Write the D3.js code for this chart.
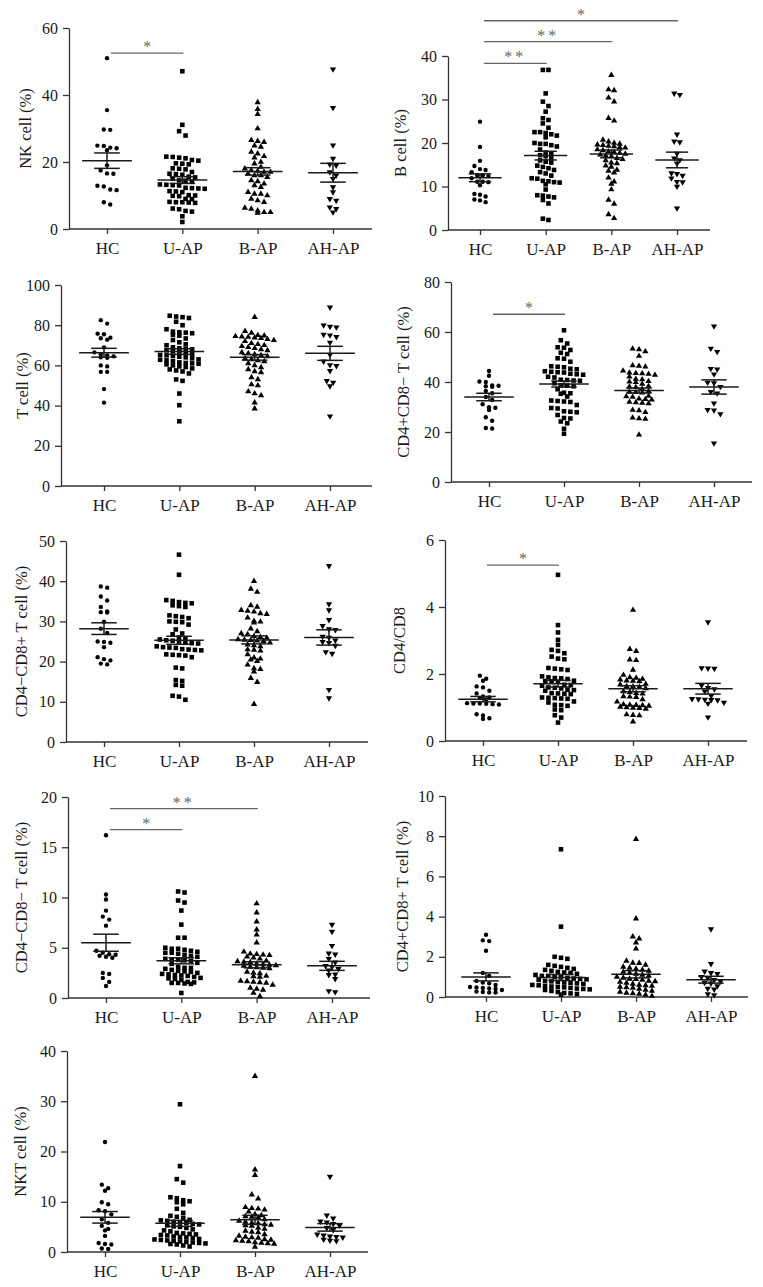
<!DOCTYPE html>
<html><head><meta charset="utf-8">
<script src="https://cdn.jsdelivr.net/npm/d3@7"></script>
<style>
body{margin:0;background:#fff}
svg{display:block}
text{font-family:"Liberation Serif","Times New Roman",serif;}
</style>
</head><body>
<svg id="c" width="763" height="1287"></svg>
<script>
// ---------------- DATA ----------------
const categories = ["HC", "U-AP", "B-AP", "AH-AP"];

// NK cell (%)
const nkHC = [51, 35.5, 29.7, 29.6, 24.9, 24.8, 24.3, 24.1, 23.5, 19.0, 17.5, 16.6, 16.5, 12.9, 12.7, 11.8, 11.6, 8.0, 7.3];
const nkUAP = [47.1, 31.1, 29.2, 27.9, 21.6, 21.5, 21.3, 21.1, 20.6, 20.4, 19.6, 19.5, 19.3, 18.1, 18.0, 17.8, 17.0, 16.5, 16.4, 16.2, 15.6, 15.4, 15.0, 14.5, 14.4, 14.2, 13.3, 13.2, 13.1, 13.0, 12.3, 12.2, 12.1, 12.0, 11.3, 11.2, 11.0, 10.1, 10.0, 9.9, 9.8, 9.0, 8.9, 8.1, 8.0, 8.0, 7.9, 7.8, 6.1, 5.9, 5.4, 5.2, 3.8, 2.1];
const nkBAP = [37.8, 35.8, 34.3, 30.0, 26.5, 26.2, 25.9, 24.9, 24.5, 23.0, 22.5, 21.7, 21.3, 20.0, 19.5, 18.5, 18.0, 17.5, 17.3, 17.0, 17.0, 16.5, 16.0, 16.0, 15.5, 14.5, 14.2, 13.5, 13.0, 12.5, 11.0, 10.5, 10.5, 10.0, 9.0, 8.5, 8.0, 6.3, 6.0, 5.5, 5.0, 5.0, 4.8];
const nkAHAP = [47.7, 36.2, 25.0, 21.0, 19.3, 19.0, 17.0, 16.0, 15.0, 12.5, 11.0, 9.0, 8.5, 6.5, 6.0, 5.0];
const nkMean = [20.4, 14.6, 17.2, 16.8];
const nkSem = [2.3, 1.0, 1.1, 2.8];
const nkSig = [[0, 1, 52.5, "*"]];

// B cell (%)
const bHC = [24.9, 19.1, 15.9, 14.7, 14.0, 13.8, 13.3, 12.6, 12.6, 12.4, 11.9, 11.1, 11.1, 11.0, 10.3, 8.3, 8.1, 7.7, 7.0, 6.8, 6.4];
const bUAP = [36.8, 36.8, 31.4, 29.5, 28.5, 27.2, 25.7, 25.3, 24.5, 23.5, 22.5, 22.5, 22.3, 22.0, 21.7, 21.3, 20.0, 19.8, 19.8, 19.5, 19.2, 18.5, 17.8, 17.5, 17.2, 17.0, 16.5, 16.0, 15.7, 15.5, 14.8, 14.5, 14.2, 13.8, 13.3, 13.0, 12.5, 11.9, 11.8, 11.3, 11.2, 11.0, 10.9, 10.5, 9.3, 8.0, 7.9, 7.7, 7.5, 6.9, 6.1, 2.6, 2.3];
const bBAP = [35.6, 32.3, 32.1, 30.4, 29.5, 25.7, 25.1, 20.7, 20.3, 20.0, 19.8, 19.6, 19.5, 19.3, 19.2, 19.0, 18.9, 18.5, 18.3, 18.0, 17.9, 17.7, 17.5, 17.3, 17.1, 16.9, 16.5, 16.3, 16.0, 15.5, 15.3, 14.8, 14.5, 13.8, 13.6, 13.2, 12.0, 11.1, 10.6, 9.3, 6.9, 6.0, 3.6, 2.7];
const bAHAP = [31.4, 31.1, 22.0, 20.4, 20.2, 17.6, 16.5, 16.1, 15.3, 13.1, 12.9, 12.5, 11.9, 11.1, 11.0, 10.0, 5.0];
const bMean = [12.0, 17.1, 17.5, 16.1];
const bSem = [0.9, 1.0, 0.9, 1.8];
const bSig = [[0, 1, 38.3, "**"], [0, 2, 43.3, "**"], [0, 3, 48.1, "*"]];

// T cell (%)
const tHC = [82.5, 80.8, 75.8, 75.5, 73.8, 73.5, 72.8, 69.0, 66.5, 65.5, 65.0, 64.5, 64.0, 63.8, 60.0, 59.5, 56.8, 56.8, 48.2, 41.5];
const tUAP = [84.7, 84.3, 84.0, 83.6, 81.7, 80.0, 78.0, 76.8, 76.5, 76.3, 76.0, 75.2, 74.8, 73.4, 72.6, 71.5, 70.5, 70.0, 69.0, 68.5, 68.3, 68.0, 67.5, 67.0, 66.8, 66.0, 65.5, 65.2, 65.0, 64.8, 64.3, 64.0, 63.5, 63.0, 62.8, 62.5, 62.2, 61.5, 61.2, 61.0, 60.8, 60.5, 60.0, 59.5, 59.2, 58.5, 58.0, 57.5, 57.0, 56.0, 53.0, 52.3, 46.0, 40.2, 32.2];
const tBAP = [84.0, 77.0, 76.2, 75.0, 74.8, 74.5, 74.3, 74.1, 73.8, 73.5, 73.0, 72.5, 72.0, 71.0, 70.5, 70.0, 69.5, 69.0, 68.5, 68.0, 67.5, 66.5, 66.0, 65.5, 65.0, 64.5, 63.5, 63.0, 62.5, 62.0, 61.0, 60.0, 59.0, 58.0, 57.0, 56.5, 54.0, 53.0, 50.5, 50.0, 47.0, 46.0, 45.0, 41.5, 38.5];
const tAHAP = [88.9, 80.0, 79.3, 79.0, 75.3, 75.0, 74.2, 71.4, 65.3, 62.0, 60.2, 59.8, 57.3, 52.3, 51.5, 49.7, 34.7];
const tMean = [66.3, 66.9, 64.0, 66.0];
const tSem = [2.2, 1.4, 1.4, 3.5];

// CD4+CD8- T cell (%)
const cd4HC = [44.4, 42.5, 40.2, 40.0, 38.6, 38.5, 38.3, 38.1, 36.4, 35.5, 34.0, 32.8, 31.1, 29.9, 29.7, 28.8, 25.9, 24.5, 21.6, 21.4];
const cd4UAP = [60.7, 56.7, 55.4, 53.9, 53.7, 52.8, 51.7, 51.2, 49.5, 49.3, 48.1, 46.3, 46.1, 45.9, 45.3, 45.1, 44.3, 44.1, 43.9, 43.8, 43.3, 43.1, 42.9, 42.1, 41.8, 40.9, 40.8, 40.6, 40.5, 39.5, 38.7, 38.5, 38.3, 37.1, 35.7, 35.5, 35.3, 34.2, 32.6, 32.4, 32.2, 32.0, 30.8, 29.6, 29.4, 28.3, 28.1, 27.9, 26.8, 25.6, 25.4, 24.2, 23.5, 21.3, 19.3];
const cd4BAP = [53.3, 53.0, 52.2, 50.4, 46.6, 46.4, 46.1, 44.5, 43.7, 43.5, 43.4, 43.2, 42.8, 42.1, 41.2, 41.0, 40.3, 40.1, 39.9, 39.2, 38.3, 38.1, 37.9, 37.2, 36.3, 36.1, 35.9, 35.7, 34.4, 34.2, 34.0, 33.3, 33.1, 32.9, 32.0, 31.8, 31.6, 31.4, 28.8, 28.6, 27.9, 25.7, 25.4, 25.2, 18.9];
const cd4AHAP = [62.3, 53.4, 52.1, 45.3, 45.1, 43.1, 39.8, 39.6, 38.1, 36.1, 35.5, 31.5, 28.9, 28.7, 27.2, 15.5];
const cd4Mean = [34.0, 39.2, 36.6, 38.0];
const cd4Sem = [1.5, 1.2, 1.0, 2.85];
const cd4Sig = [[0, 1, 67.1, "*"]];

// CD4-CD8+ T cell (%)
const cd8HC = [38.7, 38.4, 36.2, 35.2, 33.6, 32.5, 32.3, 32.2, 29.9, 28.2, 27.1, 25.0, 24.9, 24.7, 23.6, 21.1, 20.6, 20.3, 19.5, 19.3];
const cd8UAP = [46.6, 41.6, 35.3, 35.1, 34.8, 34.6, 34.5, 34.0, 33.8, 33.6, 31.5, 31.3, 31.1, 30.8, 30.0, 29.9, 29.8, 29.2, 28.0, 27.0, 26.8, 26.0, 25.8, 25.5, 25.3, 25.2, 25.0, 24.8, 24.6, 24.5, 23.8, 23.6, 23.5, 23.4, 23.1, 23.0, 22.9, 22.8, 21.8, 21.7, 21.6, 21.5, 21.1, 18.5, 18.3, 15.4, 15.2, 14.2, 14.0, 11.5, 11.3, 10.5];
const cd8BAP = [40.0, 38.1, 37.3, 34.0, 33.6, 32.8, 32.6, 32.4, 32.0, 31.8, 30.9, 30.1, 29.9, 29.7, 28.2, 27.5, 27.0, 26.8, 26.3, 26.1, 25.9, 25.5, 25.4, 25.3, 25.2, 25.1, 24.7, 24.2, 24.0, 23.8, 23.0, 22.9, 22.7, 21.8, 21.0, 20.7, 20.5, 20.1, 19.2, 18.3, 18.1, 17.5, 15.9, 14.9, 9.4];
const cd8AHAP = [43.8, 34.3, 32.8, 30.4, 28.9, 28.1, 27.9, 26.2, 26.0, 25.3, 24.9, 24.7, 24.0, 22.4, 22.0, 13.0, 10.9];
const cd8Mean = [28.2, 25.3, 25.4, 26.0];
const cd8Sem = [1.45, 1.0, 1.0, 1.9];

// CD4/CD8
const ratioHC = [1.95, 1.86, 1.80, 1.63, 1.60, 1.50, 1.42, 1.33, 1.30, 1.28, 1.24, 1.13, 1.12, 1.12, 1.11, 1.10, 1.09, 0.80, 0.76, 0.68, 0.66];
const ratioUAP = [4.96, 3.46, 3.24, 3.02, 2.87, 2.72, 2.69, 2.62, 2.52, 2.46, 2.44, 2.18, 2.16, 2.14, 2.12, 1.93, 1.90, 1.88, 1.87, 1.85, 1.80, 1.79, 1.78, 1.77, 1.68, 1.67, 1.65, 1.60, 1.59, 1.57, 1.53, 1.52, 1.50, 1.43, 1.42, 1.41, 1.40, 1.30, 1.29, 1.28, 1.27, 1.26, 1.18, 1.15, 1.08, 1.07, 1.05, 0.94, 0.92, 0.77, 0.70, 0.55];
const ratioBAP = [3.91, 2.74, 2.68, 2.43, 2.41, 2.12, 1.97, 1.90, 1.88, 1.85, 1.83, 1.80, 1.79, 1.78, 1.70, 1.68, 1.63, 1.62, 1.61, 1.57, 1.48, 1.46, 1.43, 1.41, 1.33, 1.32, 1.31, 1.24, 1.17, 1.09, 1.08, 1.07, 1.06, 1.05, 1.02, 1.00, 0.99, 0.98, 0.96, 0.79, 0.77, 0.76, 0.58];
const ratioAHAP = [3.55, 2.18, 2.17, 2.16, 1.66, 1.59, 1.55, 1.48, 1.35, 1.26, 1.25, 1.24, 1.23, 1.22, 1.15, 1.12, 0.71];
const ratioMean = [1.25, 1.71, 1.56, 1.56];
const ratioSem = [0.08, 0.1, 0.09, 0.16];
const ratioSig = [[0, 1, 5.25, "*"]];

// CD4-CD8- T cell (%)
const dnHC = [16.2, 10.3, 9.8, 8.7, 8.1, 7.8, 7.2, 4.7, 4.5, 4.35, 4.3, 4.2, 4.1, 4.0, 2.5, 2.4, 2.0, 1.6, 1.2];
const dnUAP = [10.6, 10.5, 9.7, 9.5, 8.7, 7.3, 6.0, 6.0, 5.0, 4.9, 4.9, 4.8, 4.7, 4.6, 4.5, 4.5, 4.4, 4.3, 4.2, 4.1, 3.9, 3.85, 3.8, 3.75, 3.7, 3.5, 3.4, 3.1, 3.0, 3.0, 2.9, 2.8, 2.7, 2.65, 2.6, 2.5, 2.4, 2.35, 2.3, 2.25, 2.2, 2.1, 2.0, 1.95, 1.9, 1.8, 1.6, 1.55, 1.5, 1.5, 1.45, 1.4, 0.5];
const dnBAP = [9.4, 8.5, 7.6, 6.8, 6.3, 5.5, 4.6, 4.4, 4.35, 4.3, 4.25, 4.1, 4.0, 3.9, 3.7, 3.65, 3.6, 3.55, 3.4, 3.35, 3.3, 3.25, 3.2, 3.1, 3.05, 3.0, 2.95, 2.6, 2.5, 2.45, 2.2, 2.15, 2.1, 1.7, 1.65, 1.6, 1.55, 1.5, 1.3, 1.0, 0.9, 0.8, 0.5, 0.15];
const dnAHAP = [7.3, 6.6, 5.2, 4.45, 4.35, 3.9, 3.55, 3.2, 3.1, 2.9, 2.75, 2.35, 2.3, 1.9, 0.7, 0.6];
const dnMean = [5.5, 3.7, 3.3, 3.2];
const dnSem = [0.85, 0.3, 0.3, 0.45];
const dnSig = [[0, 1, 16.75, "*"], [0, 2, 18.84, "**"]];

// CD4+CD8+ T cell (%)
const dpHC = [3.1, 2.82, 2.78, 2.3, 1.2, 1.05, 0.8, 0.72, 0.68, 0.6, 0.5, 0.47, 0.45, 0.43, 0.4, 0.35, 0.27, 0.25, 0.23, 0.22];
const dpUAP = [7.35, 3.5, 2.0, 1.95, 1.9, 1.6, 1.55, 1.5, 1.45, 1.4, 1.35, 1.3, 1.25, 1.22, 1.2, 1.15, 1.1, 1.05, 1.05, 1.0, 0.98, 0.95, 0.92, 0.9, 0.88, 0.85, 0.8, 0.78, 0.75, 0.72, 0.7, 0.68, 0.65, 0.6, 0.58, 0.55, 0.52, 0.5, 0.48, 0.45, 0.42, 0.4, 0.38, 0.35, 0.3, 0.25, 0.2, 0.18, 0.15, 0.12];
const dpBAP = [7.85, 3.9, 3.0, 2.9, 2.7, 2.4, 1.8, 1.7, 1.68, 1.6, 1.5, 1.45, 1.4, 1.35, 1.3, 1.25, 1.2, 1.15, 1.1, 1.05, 1.0, 0.95, 0.9, 0.88, 0.85, 0.8, 0.78, 0.75, 0.7, 0.65, 0.6, 0.58, 0.55, 0.5, 0.48, 0.45, 0.4, 0.35, 0.3, 0.25, 0.2, 0.18, 0.15, 0.1, 0.05];
const dpAHAP = [3.38, 1.65, 1.28, 1.2, 1.15, 1.0, 0.95, 0.85, 0.78, 0.72, 0.68, 0.55, 0.42, 0.38, 0.15, 0.1];
const dpMean = [1.0, 0.97, 1.13, 0.86];
const dpSem = [0.2, 0.15, 0.18, 0.17];

// NKT cell (%)
const nktHC = [21.9, 13.4, 12.7, 12.2, 9.9, 9.5, 8.3, 8.1, 7.5, 6.5, 5.8, 5.2, 4.6, 4.3, 3.2, 1.8, 1.6, 1.5, 0.7, 0.6];
const nktUAP = [29.4, 17.1, 14.5, 13.8, 10.9, 10.7, 10.3, 10.1, 9.9, 9.5, 8.6, 7.8, 7.2, 7.0, 6.8, 6.4, 6.3, 6.2, 6.0, 5.9, 5.8, 5.6, 5.5, 5.3, 5.1, 5.0, 4.8, 4.5, 4.3, 4.1, 3.8, 3.7, 3.6, 3.5, 3.4, 3.3, 3.1, 3.0, 2.9, 2.8, 2.6, 2.5, 2.4, 2.3, 2.2, 2.1, 2.0, 1.9, 1.8, 1.7, 1.6, 1.5, 1.3, 1.1];
const nktBAP = [35.0, 16.4, 15.3, 11.4, 10.6, 8.9, 8.7, 8.6, 8.4, 8.0, 7.5, 7.3, 7.1, 7.0, 6.9, 6.5, 6.2, 6.0, 5.8, 5.7, 5.5, 5.4, 5.3, 5.2, 4.8, 4.6, 4.2, 4.0, 3.9, 3.5, 3.2, 3.0, 2.9, 2.8, 2.5, 2.4, 2.3, 2.2, 2.1, 1.9, 1.8, 1.7, 1.6, 1.0];
const nktAHAP = [15.0, 7.3, 6.7, 6.1, 5.9, 5.6, 5.3, 4.8, 4.4, 3.5, 3.3, 3.1, 3.0, 2.9, 2.5, 2.3, 2.2];
const nktMean = [6.9, 5.7, 6.4, 4.9];
const nktSem = [1.15, 0.6, 0.9, 0.75];

// ---------------- LAYOUT ----------------
const panels = [
  {title: "NK cell (%)", groups: [nkHC, nkUAP, nkBAP, nkAHAP], mean: nkMean, sem: nkSem, sig: nkSig,
   max: 60, step: 20, left: 69, right: 372, top: 28, bottom: 229, c0: 107, c3: 333, tx: 25},
  {title: "B cell (%)", groups: [bHC, bUAP, bBAP, bAHAP], mean: bMean, sem: bSem, sig: bSig,
   max: 40, step: 10, left: 448, right: 710, top: 56, bottom: 230, c0: 480, c3: 677, tx: 400},
  {title: "T cell (%)", groups: [tHC, tUAP, tBAP, tAHAP], mean: tMean, sem: tSem, sig: [],
   max: 100, step: 20, left: 61, right: 372, top: 285, bottom: 486, c0: 104, c3: 330, tx: 22},
  {title: "CD4+CD8\u2212 T cell (%)", groups: [cd4HC, cd4UAP, cd4BAP, cd4AHAP], mean: cd4Mean, sem: cd4Sem, sig: cd4Sig,
   max: 80, step: 20, left: 451, right: 752, top: 282, bottom: 482, c0: 489, c3: 714, tx: 403},
  {title: "CD4\u2212CD8+ T cell (%)", groups: [cd8HC, cd8UAP, cd8BAP, cd8AHAP], mean: cd8Mean, sem: cd8Sem, sig: [],
   max: 50, step: 10, left: 66, right: 368, top: 541, bottom: 742, c0: 104, c3: 329, tx: 21},
  {title: "CD4/CD8", groups: [ratioHC, ratioUAP, ratioBAP, ratioAHAP], mean: ratioMean, sem: ratioSem, sig: ratioSig,
   max: 6, step: 2, left: 445, right: 747, top: 540, bottom: 741, c0: 483, c3: 708, tx: 399},
  {title: "CD4\u2212CD8\u2212 T cell (%)", groups: [dnHC, dnUAP, dnBAP, dnAHAP], mean: dnMean, sem: dnSem, sig: dnSig,
   max: 20, step: 5, left: 68, right: 370, top: 797, bottom: 998, c0: 106, c3: 332, tx: 21},
  {title: "CD4+CD8+ T cell (%)", groups: [dpHC, dpUAP, dpBAP, dpAHAP], mean: dpMean, sem: dpSem, sig: [],
   max: 10, step: 2, left: 445, right: 748, top: 796, bottom: 997, c0: 486, c3: 711, tx: 402},
  {title: "NKT cell (%)", groups: [nktHC, nktUAP, nktBAP, nktAHAP], mean: nktMean, sem: nktSem, sig: [],
   max: 40, step: 10, left: 67, right: 368, top: 1051, bottom: 1252, c0: 105, c3: 330, tx: 20}
];

const symbols = [
  d3.symbol().type(d3.symbolCircle).size(15)(),
  d3.symbol().type(d3.symbolSquare).size(21)(),
  d3.symbol().type(d3.symbolTriangle).size(17)(),
  d3.symbol().type(d3.symbolTriangle).size(17)()
];
const symRot = [0, 0, 0, 180];

function swarm(vals, y, rowH, sp) {
  const pts = vals.map(v => ({v, py: y(v)})).sort((a, b) => a.py - b.py);
  const rows = [];
  let cur = null;
  pts.forEach(pt => {
    if (!cur || pt.py - cur.y0 > rowH) { cur = {y0: pt.py, items: []}; rows.push(cur); }
    cur.items.push(pt);
  });
  rows.forEach(r => {
    const n = r.items.length;
    r.items.forEach((pt, i) => { pt.dx = (i - (n - 1) / 2) * sp; });
  });
  return pts;
}

const svg = d3.select("#c");
const ink = "#1a1a1a";

panels.forEach(p => {
  const g = svg.append("g");
  const x = d3.scalePoint().domain(categories).range([p.c0, p.c3]);
  const y = d3.scaleLinear().domain([0, p.max]).range([p.bottom, p.top]);
  const stepX = x.step();

  // Y axis
  const ya = g.append("g").attr("transform", `translate(${p.left},0)`)
    .call(d3.axisLeft(y).tickValues(d3.range(0, p.max + p.step / 2, p.step))
      .tickSize(6).tickPadding(5).tickSizeOuter(0).tickFormat(d3.format("d")));
  ya.selectAll("text").attr("font-size", 16).attr("fill", ink);

  // X axis
  const xa = g.append("g").attr("transform", `translate(0,${p.bottom})`)
    .call(d3.axisBottom(x).tickSize(5).tickPadding(8).tickSizeOuter(0));
  xa.select(".domain").attr("d", `M${p.left},0H${p.right}`);
  xa.selectAll("text").attr("font-size", 17).attr("fill", ink);

  g.selectAll(".domain, .tick line").attr("stroke", "#333").attr("stroke-width", 1.3);

  // Y title
  g.append("text")
    .attr("transform", `translate(${p.tx},${(p.top + p.bottom) / 2}) rotate(-90)`)
    .attr("text-anchor", "middle").attr("dominant-baseline", "central")
    .attr("font-size", 16.5).attr("fill", ink).text(p.title);

  // points
  p.groups.forEach((vals, gi) => {
    const cx = x(categories[gi]);
    const pts = swarm(vals, y, 4.5, stepX * 0.085);
    g.append("g").selectAll("path").data(pts).join("path")
      .attr("d", symbols[gi])
      .attr("transform", d => `translate(${cx + d.dx},${d.py}) rotate(${symRot[gi]})`)
      .attr("fill", "#000");

    // mean + SEM
    const m = p.mean[gi], s = p.sem[gi];
    const mh = stepX * 0.33, sh = stepX * 0.17;
    const lg = g.append("g").attr("stroke", ink).attr("stroke-width", 1.5).attr("fill", "none");
    lg.append("line").attr("x1", cx - mh).attr("x2", cx + mh).attr("y1", y(m)).attr("y2", y(m));
    lg.append("line").attr("x1", cx - sh).attr("x2", cx + sh).attr("y1", y(m + s)).attr("y2", y(m + s));
    lg.append("line").attr("x1", cx - sh).attr("x2", cx + sh).attr("y1", y(m - s)).attr("y2", y(m - s));
    lg.append("line").attr("x1", cx).attr("x2", cx).attr("y1", y(m + s)).attr("y2", y(m - s));
  });

  // significance
  p.sig.forEach(([a, b, v, lab]) => {
    const x1 = x(categories[a]) + 4, x2 = x(categories[b]) + 1;
    g.append("line").attr("x1", x1).attr("x2", x2).attr("y1", y(v)).attr("y2", y(v))
      .attr("stroke", "#666").attr("stroke-width", 1.4);
    g.append("text").attr("x", (x1 + x2) / 2).attr("y", y(v) - 1)
      .attr("text-anchor", "middle").attr("font-size", 16).attr("fill", "#666")
      .attr("letter-spacing", lab.length > 1 ? 3 : 0)
      .text(lab);
  });
});
</script>
</body></html>
